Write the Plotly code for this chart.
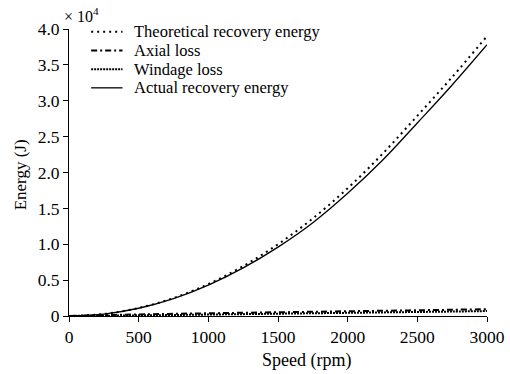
import plotly.graph_objects as go

# Rotor speed samples (rpm)
speed = [0, 250, 500, 750, 1000, 1250, 1500, 1750, 2000, 2250, 2500, 2750, 3000]

# Energy values (J)
theoretical = [0, 280, 1120, 2500, 4450, 6950, 10000, 13600, 17800, 22600, 27900, 33300, 39000]
axial_loss = [0, 120, 220, 300, 380, 450, 520, 590, 660, 730, 800, 870, 950]
windage_loss = [0, 40, 90, 140, 200, 260, 320, 380, 440, 500, 560, 620, 690]
actual = [0, 270, 1080, 2420, 4300, 6700, 9600, 13000, 17100, 21700, 26900, 32200, 37800]

x_ticks = [0, 500, 1000, 1500, 2000, 2500, 3000]
y_ticks = [0, 5000, 10000, 15000, 20000, 25000, 30000, 35000, 40000]
y_tick_text = ["0", "0.5", "1.0", "1.5", "2.0", "2.5", "3.0", "3.5", "4.0"]

series = [
    ("Theoretical recovery energy", theoretical, "2px,4px", 2.0),
    ("Axial loss", axial_loss, "6px,3px,2px,3px", 2.0),
    ("Windage loss", windage_loss, "2px,1px", 2.0),
    ("Actual recovery energy", actual, "solid", 1.3),
]

FONT = "Times New Roman"

fig = go.Figure()
for name, vals, dash, width in series:
    fig.add_trace(go.Scatter(
        x=speed, y=vals, mode="lines", name=name, line_shape="spline",
        line=dict(color="black", width=width, dash=dash), showlegend=False,
    ))

# Legend drawn as line samples with labels
legend_top = 0.99
row_gap = 0.065
for i, (name, vals, dash, width) in enumerate(series):
    yy = legend_top - i * row_gap
    fig.add_shape(type="line", xref="paper", yref="paper",
                  x0=0.053, x1=0.128, y0=yy, y1=yy,
                  line=dict(color="black", width=width, dash=dash))
    fig.add_annotation(xref="paper", yref="paper", x=0.151, y=yy,
                       text=name, showarrow=False, xanchor="left", yanchor="middle",
                       font=dict(family=FONT, size=16.5, color="black"))

# Axis multiplier
fig.add_annotation(xref="paper", yref="paper", x=-0.017, y=1.0, yshift=2,
                   text="× 10<sup>4</sup>", showarrow=False, xanchor="left", yanchor="bottom",
                   font=dict(family=FONT, size=16, color="black"))

# Axis titles
fig.add_annotation(xref="paper", yref="paper", x=0.567, y=0, yshift=-44,
                   text="Speed (rpm)", showarrow=False, xanchor="center", yanchor="middle",
                   font=dict(family=FONT, size=18, color="black"))
fig.add_annotation(xref="paper", yref="paper", x=0, xshift=-49, y=0.49,
                   text="Energy (J)", showarrow=False, textangle=-90,
                   xanchor="center", yanchor="middle",
                   font=dict(family=FONT, size=17, color="black"))

axis_font = dict(family=FONT, size=17.5, color="black")
fig.update_layout(
    width=510, height=374,
    margin=dict(l=69, r=23, t=29, b=58),
    paper_bgcolor="white", plot_bgcolor="white",
    font=axis_font,
    xaxis=dict(range=[0, 3000], tickvals=x_ticks, showgrid=False, zeroline=False,
               showline=True, linecolor="black", linewidth=1, automargin=False,
               ticks="outside", ticklen=5, tickcolor="black", tickfont=axis_font),
    yaxis=dict(range=[0, 40000], tickvals=y_ticks, ticktext=y_tick_text, showgrid=False,
               zeroline=False, showline=True, linecolor="black", linewidth=1, automargin=False,
               ticks="outside", ticklen=5, tickcolor="black", tickfont=axis_font),
)

fig.write_html("out.html")
